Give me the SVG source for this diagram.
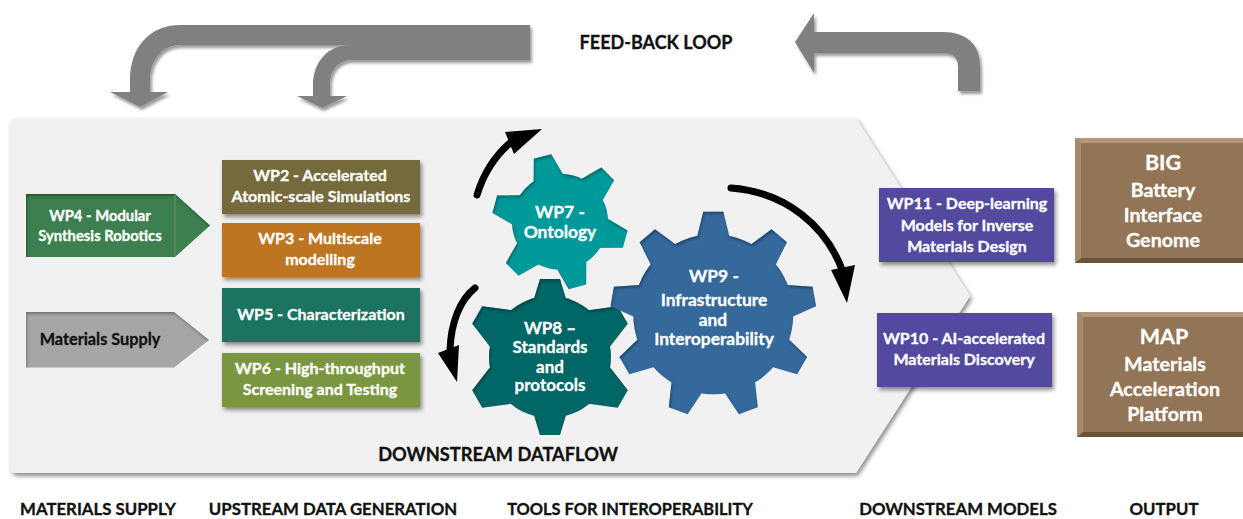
<svg xmlns="http://www.w3.org/2000/svg" width="1243" height="519" viewBox="0 0 1243 519">
<style>
text{font-family:Lato,"Liberation Sans",sans-serif;font-weight:700;text-anchor:middle;stroke-width:.3;paint-order:stroke}
.w{fill:#fff;stroke:#fff;font-size:16px}
.s14{font-size:14.800px}
.s17{font-size:17.400px}
.s20{font-size:19.700px}
.s21{font-size:21.500px}
.k{fill:#111;stroke:#111;font-size:16.800px}
.box{filter:url(#drop)}
.big{fill:#808080;filter:url(#drop2)}
.curve{fill:none;stroke:#000;stroke-width:7;stroke-linecap:round}
.g7{fill:#00999a}.g8{fill:#006666}.g9{fill:#36699c}
.gear{filter:url(#inner)}
</style>
<defs>
<filter id="drop" x="-10%" y="-15%" width="125%" height="140%"><feDropShadow dx="2" dy="3" stdDeviation="2" flood-color="#000" flood-opacity=".45"/></filter>
<filter id="drop2" x="-10%" y="-15%" width="125%" height="140%"><feDropShadow dx="2" dy="3" stdDeviation="1.800" flood-color="#000" flood-opacity=".4"/></filter>
<filter id="inner" x="-5%" y="-5%" width="110%" height="110%"><feGaussianBlur in="SourceAlpha" stdDeviation="1.500" result="b"/><feOffset in="b" dx="1" dy="2" result="o"/><feComposite in="SourceAlpha" in2="o" operator="out" result="inv"/><feFlood flood-color="#000" flood-opacity=".6"/><feComposite in2="inv" operator="in" result="s"/><feMerge><feMergeNode in="SourceGraphic"/><feMergeNode in="s"/></feMerge></filter>
<path id="t7" d="M-16-42L-9-67.500H9L16-42Z"/>
<path id="t8" d="M-17-55L-10-78H10L17-55Z"/>
<path id="t8b" d="M-24-50L-10-84H10L24-50Z"/>
<path id="t9" d="M-17-74L-10-102.600H10L17-74Z"/>
</defs>

<g id="background"><path d="M16 118H856L970 296L856 473H16Q10 473 10 467V124Q10 118 16 118Z" fill="#f1f1f1" filter="url(#drop)"/></g>

<g id="connectors">
<path class="big" d="M530 25H180C150 25 130 47 130 80V92H110L140 107L168 92H150V80C150 60 162 45 180 45H350C328 45 313 62 313 85V96H297L322 108L347 96H330V85C330 70 338 60 352 60H530Z"/>
<path class="big" d="M795 42L814 13V32H943C966 32 980 44 980 66V91H958V66C958 57 952 53 943 53H814V73Z"/>
<path class="curve" d="M477 195C484 172 495 156 510 143"/>
<path d="M505 132L542 129L514 154Z"/>
<path class="curve" d="M731 188C785 192 826 225 843 272"/>
<path d="M831 270L855 265L847 303Z"/>
<path class="curve" d="M475 288C460 300 451 322 450 350"/>
<path d="M459 345L457 382L438 353Z"/>
</g>

<g id="wp4"><path class="gear" d="M26 194H175L210 225.500L175 257H26Z" fill="#3c7f50"/><path d="M175 195V256" stroke="#6f9a4e" stroke-width="1" fill="none"/><text class="w s14" x="100" y="221">WP4  - Modular</text><text class="w s14" x="100" y="241">Synthesis Robotics</text></g>
<g id="materials-supply-node"><path class="gear" d="M26 312H174L209 340L174 367.500H26Z" fill="#a6a6a6"/><text class="k" style="font-size:16.300px" x="100" y="345">Materials Supply</text></g>

<g id="wp2"><rect class="box" x="222" y="160" width="198" height="54" fill="#746a3a"/><text class="w" x="320" y="181">WP2 - Accelerated</text><text class="w" x="321" y="202">Atomic-scale Simulations</text></g>
<g id="wp3"><rect class="box" x="222" y="223" width="198" height="54" fill="#be7420"/><text class="w" x="320" y="244">WP3 - Multiscale</text><text class="w" x="320" y="265">modelling</text></g>
<g id="wp5"><rect class="box" x="222" y="288" width="198" height="54" fill="#1f7360"/><text class="w" x="321" y="320">WP5 - Characterization</text></g>
<g id="wp6"><rect class="box" x="222" y="353" width="198" height="54" fill="#7a963f"/><text class="w" x="320" y="374">WP6 - High-throughput</text><text class="w" x="320" y="395">Screening and Testing</text></g>

<g id="wp8"><g class="gear g8" transform="translate(550 357)"><circle r="61"/><use href="#t8"/><use href="#t8b" transform="rotate(60)"/><use href="#t8b" transform="rotate(120)"/><use href="#t8" transform="rotate(180)"/><use href="#t8b" transform="rotate(240)"/><use href="#t8b" transform="rotate(300)"/></g><text class="w" style="font-size:17px" x="550" y="334">WP8 –</text><text class="w" style="font-size:17px" x="550" y="353">Standards</text><text class="w" style="font-size:17px" x="550" y="372.500">and</text><text class="w" style="font-size:17px" x="550" y="391">protocols</text></g>
<g id="wp7"><g class="gear g7" transform="translate(560 221.700)"><circle r="48"/><use href="#t7" transform="rotate(-15)"/><use href="#t7" transform="rotate(45)"/><use href="#t7" transform="rotate(105)"/><use href="#t7" transform="rotate(165)"/><use href="#t7" transform="rotate(225)"/><use href="#t7" transform="rotate(285)"/></g><text class="w s17" x="560" y="218">WP7 -</text><text class="w s17" x="560" y="238">Ontology</text></g>
<g id="wp9"><g class="gear g9" transform="translate(713.300 314.300)"><circle r="80"/><use href="#t9"/><use href="#t9" transform="rotate(40)"/><use href="#t9" transform="rotate(80)"/><use href="#t9" transform="rotate(120)"/><use href="#t9" transform="rotate(160)"/><use href="#t9" transform="rotate(200)"/><use href="#t9" transform="rotate(240)"/><use href="#t9" transform="rotate(280)"/><use href="#t9" transform="rotate(320)"/></g><text class="w s17" x="714" y="282">WP9 -</text><text class="w s17" x="714" y="306">Infrastructure</text><text class="w s17" x="713" y="326">and</text><text class="w s17" x="714" y="345">Interoperability</text></g>

<g id="wp11"><rect class="box" x="879" y="188" width="175" height="74" fill="#524a9e"/><text class="w" x="967" y="209">WP11 - Deep-learning</text><text class="w" x="967" y="231">Models for Inverse</text><text class="w" x="967" y="252">Materials Design</text></g>
<g id="wp10"><rect class="box" x="877" y="313" width="175" height="74" fill="#524a9e"/><text class="w" x="964" y="344">WP10 - AI-accelerated</text><text class="w" x="964" y="365">Materials Discovery</text></g>

<g id="big"><rect x="1075" y="138" width="168" height="125" fill="#927556"/><path d="M1075 138H1243V143H1081Z" fill="#b39778"/><path d="M1075 263H1243V258H1081Z" fill="#6b533a"/><path d="M1075 138V263L1081 258V143Z" fill="#a58a6c"/><text class="w s21" x="1163" y="170">BIG</text><text class="w s20" x="1163" y="197">Battery</text><text class="w s20" x="1163" y="222">Interface</text><text class="w s20" x="1163" y="247">Genome</text></g>
<g id="map"><rect x="1077" y="312" width="166" height="125" fill="#927556"/><path d="M1077 312H1243V317H1083Z" fill="#b39778"/><path d="M1077 437H1243V432H1083Z" fill="#6b533a"/><path d="M1077 312V437L1083 432V317Z" fill="#a58a6c"/><text class="w s21" x="1164" y="344">MAP</text><text class="w s20" x="1165" y="371">Materials</text><text class="w s20" x="1165" y="396">Acceleration</text><text class="w s20" x="1165" y="421">Platform</text></g>

<g id="labels">
<text class="k" style="font-size:18px" x="656" y="49">FEED-BACK LOOP</text>
<text class="k" style="font-size:18.300px" x="498" y="461">DOWNSTREAM DATAFLOW</text>
<text class="k" x="98" y="515">MATERIALS SUPPLY</text>
<text class="k" x="333" y="515">UPSTREAM DATA GENERATION</text>
<text class="k" style="font-size:16.400px" x="630" y="515">TOOLS FOR INTEROPERABILITY</text>
<text class="k" x="958" y="515">DOWNSTREAM MODELS</text>
<text class="k" x="1164" y="515">OUTPUT</text>
</g>
</svg>
